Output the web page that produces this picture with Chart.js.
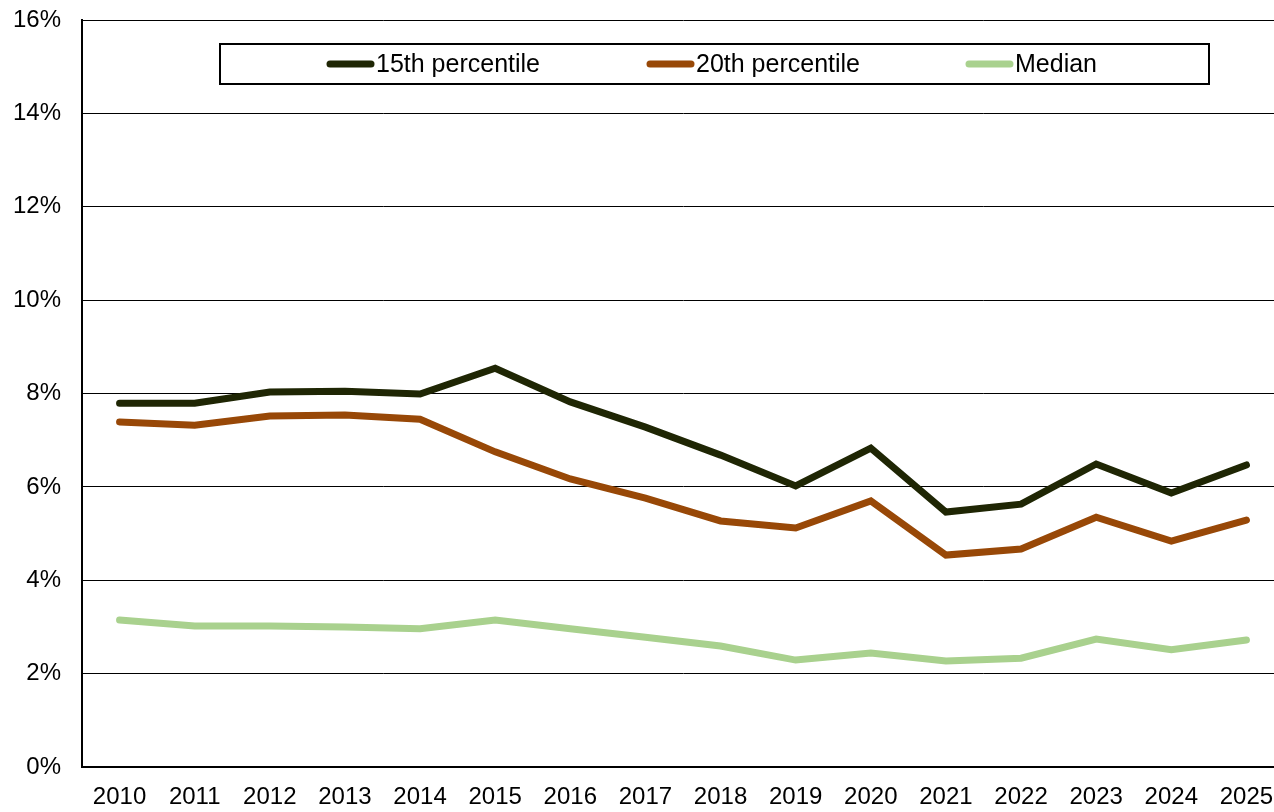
<!DOCTYPE html>
<html>
<head>
<meta charset="utf-8">
<script src="https://cdn.jsdelivr.net/npm/chart.js@4/dist/chart.umd.min.js"></script>
<style>
  html, body { margin: 0; padding: 0; background: #fff; overflow: hidden; }
  #wrap { width: 1284px; height: 812px; }
</style>
</head>
<body>
<div id="wrap"><canvas id="chart" width="1284" height="812"></canvas></div>
<script>
const years = ["2010", "2011", "2012", "2013", "2014", "2015", "2016", "2017",
               "2018", "2019", "2020", "2021", "2022", "2023", "2024", "2025"];
const p15 = [7.79, 7.79, 8.03, 8.05, 7.99, 8.54, 7.82, 7.28, 6.68, 6.02, 6.83, 5.46, 5.63, 6.49, 5.87, 6.47];
const p20 = [7.39, 7.32, 7.52, 7.54, 7.45, 6.75, 6.17, 5.76, 5.27, 5.12, 5.70, 4.54, 4.67, 5.35, 4.84, 5.29];
const median = [3.15, 3.02, 3.02, 3.00, 2.96, 3.15, 2.96, 2.78, 2.59, 2.29, 2.44, 2.27, 2.33, 2.74, 2.51, 2.72];

const FONT = "'Liberation Sans', Arial, sans-serif";

// legend drawn inside the plot, boxed
const boxedLegend = {
    id: "boxedLegend",
    afterDatasetsDraw(chart) {
        const ctx = chart.ctx;
        ctx.save();
        ctx.strokeStyle = "#000";
        ctx.lineWidth = 2;
        ctx.fillStyle = "#fff";
        ctx.fillRect(220, 44, 989, 40);
        ctx.strokeRect(220, 44, 989, 40);
        const starts = [327, 647, 966];
        ctx.font = "25px " + FONT;
        ctx.textBaseline = "middle";
        chart.data.datasets.forEach((ds, i) => {
            const x = starts[i];
            ctx.beginPath();
            ctx.lineCap = "round";
            ctx.lineWidth = 7;
            ctx.strokeStyle = ds.borderColor;
            ctx.moveTo(x + 3, 64);
            ctx.lineTo(x + 44, 64);
            ctx.stroke();
            ctx.fillStyle = "#000";
            ctx.fillText(ds.label, x + 49, 65);
        });
        ctx.restore();
    }
};

const lineStyle = { borderWidth: 7, pointRadius: 0, borderCapStyle: "round", borderJoinStyle: "miter", tension: 0, fill: false };

new Chart(document.getElementById("chart"), {
    type: "line",
    data: {
        labels: years,
        datasets: [
            { label: "15th percentile", data: p15, borderColor: "#1f2604", ...lineStyle },
            { label: "20th percentile", data: p20, borderColor: "#984807", ...lineStyle },
            { label: "Median", data: median, borderColor: "#a9d18e", ...lineStyle }
        ]
    },
    options: {
        responsive: false,
        animation: false,
        layout: { padding: { top: 20, right: 0, left: 0, bottom: 0 } },
        plugins: { legend: { display: false }, tooltip: { enabled: false } },
        scales: {
            x: {
                offset: true,
                grid: { display: false, drawTicks: false },
                border: { display: true, color: "#000", width: 2 },
                ticks: { color: "#000", font: { family: FONT, size: 24 }, padding: 16, maxRotation: 0, autoSkip: false },
                afterFit(scale) { scale.height = 45; scale.paddingLeft = 0; scale.paddingRight = 0; }
            },
            y: {
                min: 0,
                max: 16,
                grid: { color: "#000", lineWidth: 1, drawTicks: false },
                border: { display: true, color: "#000", width: 2 },
                ticks: {
                    stepSize: 2,
                    color: "#000",
                    padding: 21,
                    font: { family: FONT, size: 24 },
                    callback: v => v + "%"
                },
                afterFit(scale) { scale.width = 82; scale.paddingTop = 0; scale.paddingBottom = 0; }
            }
        }
    },
    plugins: [boxedLegend]
});
</script>
</body>
</html>
